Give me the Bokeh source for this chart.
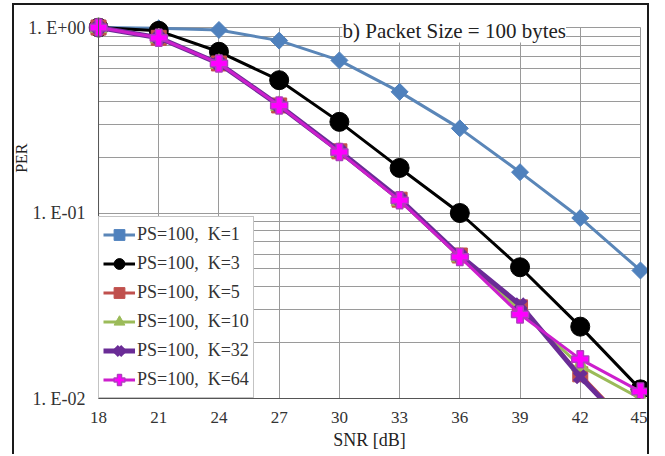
import numpy as np
from bokeh.plotting import figure
from bokeh.models import (Range1d, FixedTicker, Legend, LegendItem, Label, Span, Title)
from bokeh.embed import file_html
from bokeh.resources import INLINE

# ---- data ----
snr = [18, 21, 24, 27, 30, 33, 36, 39, 42, 45]
per_k1 = [1.0, 0.99, 0.97, 0.85, 0.665, 0.45, 0.286, 0.166, 0.094, 0.049]
per_k3 = [1.0, 0.96, 0.74, 0.52, 0.31, 0.175, 0.10, 0.051, 0.0244, 0.0112]
per_k5 = [1.0, 0.88, 0.64, 0.38, 0.215, 0.118, 0.059, 0.031, 0.0135, 0.0062]
per_k10 = [1.0, 0.88, 0.64, 0.38, 0.214, 0.117, 0.058, 0.030, 0.0150, 0.0100]
per_k32 = [1.0, 0.88, 0.64, 0.38, 0.216, 0.119, 0.059, 0.032, 0.0131, 0.0060]
per_k64 = [1.0, 0.88, 0.64, 0.38, 0.213, 0.117, 0.058, 0.0284, 0.0163, 0.0109]
series_labels = ["PS=100, \u00a0K=1", "PS=100, \u00a0K=3", "PS=100, \u00a0K=5",
                 "PS=100, \u00a0K=10", "PS=100, \u00a0K=32", "PS=100, \u00a0K=64"]
x_ticks = [18, 21, 24, 27, 30, 33, 36, 39, 42, 45]
y_ticks = [0.01, 0.1, 1.0]
y_tick_labels = ["1. E-02", "1. E-01", "1. E+00"]
y_minor = [m * 10.0 ** d for d in (-2, -1) for m in range(2, 10)]
title_text = "b) Packet Size = 100 bytes"
x_title = "SNR [dB]"
y_title = "PER"

SERIF = "Liberation Serif"

p = figure(width=637, height=451, y_axis_type="log",
           x_range=Range1d(17.5, 45.5),
           y_range=Range1d(0.01, 10 ** 0.054),
           output_backend="svg", toolbar_location=None,
           min_border_left=72, min_border_right=1,
           min_border_top=12, min_border_bottom=58)
p.margin = (3, 0, 0, 12)
p.styles = {"border-left": "2px solid #1a1a1a", "border-top": "2px solid #1a1a1a",
            "border-right": "2px solid #1a1a1a"}
p.outline_line_color = None
p.background_fill_color = "white"
p.border_fill_color = "white"

# x axis
p.xaxis.ticker = FixedTicker(ticks=x_ticks)
p.xaxis.bounds = (18, 45)
p.xaxis.major_tick_out = 0
p.xaxis.major_tick_in = 0
p.xaxis.minor_tick_out = 0
p.xaxis.minor_tick_in = 0
p.xaxis.major_label_standoff = 13
p.xaxis.axis_line_color = "#555555"
p.xaxis.major_label_text_font = SERIF
p.xaxis.major_label_text_font_size = "17px"
p.xaxis.major_label_text_color = "#333333"
p.xaxis.axis_label = x_title
p.xaxis.axis_label_standoff = 4
p.xaxis.axis_label_text_font = SERIF
p.xaxis.axis_label_text_font_size = "18px"
p.xaxis.axis_label_text_font_style = "normal"
p.xaxis.axis_label_text_color = "#222222"

# y axis
p.yaxis.ticker = FixedTicker(ticks=y_ticks, minor_ticks=y_minor)
p.yaxis.bounds = (0.01, 1.0)
p.yaxis.major_label_overrides = {t: l for t, l in zip(y_ticks, y_tick_labels)}
p.yaxis.major_tick_out = 0
p.yaxis.major_tick_in = 0
p.yaxis.minor_tick_out = 0
p.yaxis.minor_tick_in = 0
p.yaxis.major_label_standoff = 3
p.yaxis.axis_line_color = None
p.yaxis.major_label_text_font = SERIF
p.yaxis.major_label_text_font_size = "18px"
p.yaxis.major_label_text_color = "#333333"

p.add_layout(Title(text=y_title, align="right", offset=126, standoff=-8,
                   text_font=SERIF, text_font_size="16px",
                   text_font_style="normal", text_color="#222222"), "left")

# grids
p.xgrid.grid_line_color = "#9a9a9a"
p.xgrid.cross_bounds = (0.01, 1.0)
p.ygrid.grid_line_color = "#9a9a9a"
p.ygrid.minor_grid_line_color = "#9a9a9a"
p.ygrid.cross_bounds = (18, 45)

p.add_layout(Span(location=x_ticks[0], dimension="height",
                  line_color="#555555", line_width=1))

items = []

def add_series(y, color, line_color, lw, marker, size, label, fill=None,
               mline=None, mlw=1, angle=0.0):
    r1 = p.line(snr, y, line_color=line_color, line_width=lw)
    r2 = p.scatter(snr, y, marker=marker, size=size, angle=angle,
                   fill_color=fill or color, line_color=mline or color,
                   line_width=mlw)
    items.append(LegendItem(label=label, renderers=[r1, r2]))

add_series(per_k1, "#4f81bd", "#5a86b8", 3, "square", 12, series_labels[0],
           angle=np.pi / 4)
add_series(per_k3, "#000000", "#000000", 3, "circle", 19, series_labels[1])
add_series(per_k5, "#c0504d", "#c0504d", 3, "square", 15, series_labels[2])
add_series(per_k10, "#9bbb59", "#9bbb59", 3, "triangle", 17, series_labels[3])
add_series(per_k32, "#6a2c96", "#6a2c96", 5, "x", 15, series_labels[4], mlw=6)
add_series(per_k64, "#ff00ff", "#cc1fcc", 3, "plus", 17, series_labels[5],
           fill="#ff00ff", mline="#b23cc0", mlw=1.5)

legend = Legend(items=items, location=(10, 0), orientation="vertical")
legend.label_text_font = SERIF
legend.label_text_font_size = "18px"
legend.label_text_color = "#333333"
legend.glyph_width = 32
legend.glyph_height = 27
legend.label_height = 27
legend.label_standoff = 2
legend.spacing = 2
legend.padding = 4
legend.margin = 0
legend.border_line_color = "#888888"
legend.border_line_width = 1
legend.background_fill_color = "white"
legend.background_fill_alpha = 1.0
p.add_layout(legend, "center")

# in-plot title
p.add_layout(Label(x=254, y=368, x_units="screen", y_units="screen",
                   text=title_text, text_font=SERIF, text_font_size="21px",
                   text_color="#222222", text_baseline="middle",
                   background_fill_color="white", background_fill_alpha=1.0))

open("out.html", "w").write(file_html(p, INLINE))
